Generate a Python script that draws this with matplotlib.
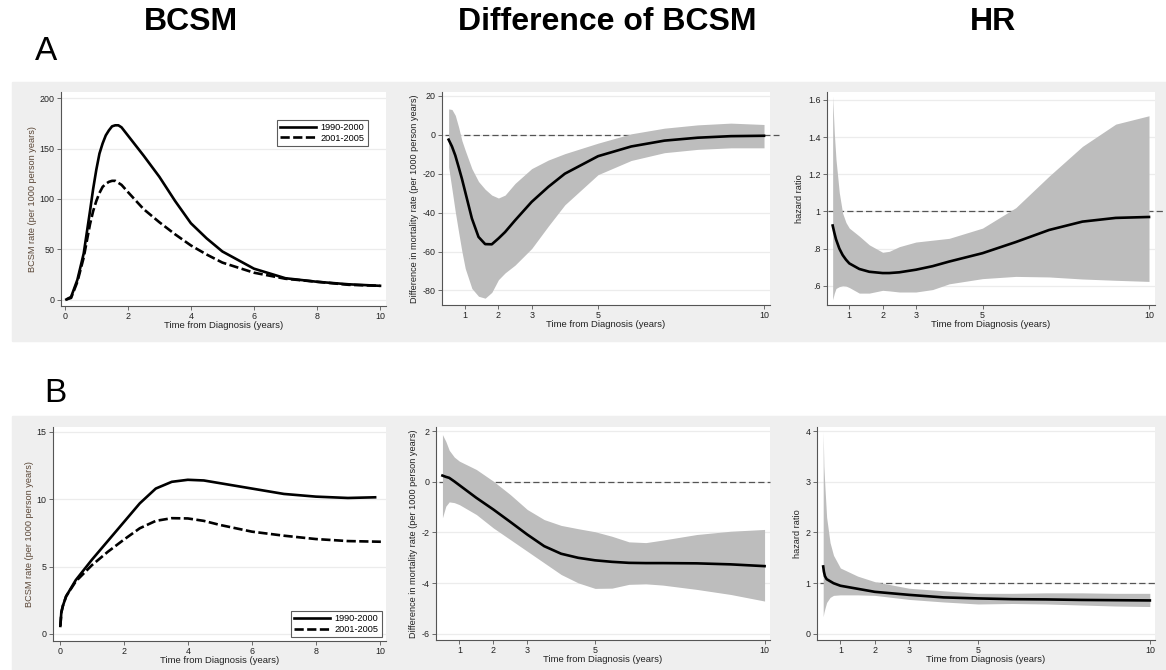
import matplotlib
matplotlib.use("Agg")
import matplotlib.pyplot as plt
from matplotlib.patches import Rectangle

plt.rcParams["font.family"] = ["Liberation Sans", "DejaVu Sans"]
plt.rcParams["axes.unicode_minus"] = False

W, H = 1166, 670

COL_TITLES = ["BCSM", "Difference of BCSM", "HR"]
ROW_LABELS = ["A", "B"]
PERIODS = ["1990-2000", "2001-2005"]
XLABEL = "Time from Diagnosis (years)"
YLAB_RATE = "BCSM rate (per 1000 person years)"
YLAB_DIFF = "Difference in mortality rate (per 1000 person years)"
YLAB_HR = "hazard ratio"
LOG_TICKS = [1, 2, 3, 5, 10]

# --- Row A: BCSM rates ---
A_T = [0.05, 0.2, 0.4, 0.6, 0.8, 0.9, 1.0, 1.1, 1.2, 1.3, 1.4, 1.5, 1.6, 1.7,
       1.8, 2.0, 2.5, 3.0, 3.5, 4.0, 4.5, 5.0, 6.0, 7.0, 8.0, 9.0, 10.0]
A_RATE_9000 = [0.5, 3, 20, 46, 88, 110, 129, 145, 155, 163, 168, 172, 173, 173,
               171, 163, 143, 122, 98, 76, 61, 48, 31, 21.5, 18, 15.5, 14]
A_RATE_0105 = [0.5, 2, 18, 42, 75, 88, 98, 106, 112, 115, 117, 118, 118, 116,
               114, 107, 90, 77, 65, 54, 45, 37, 27, 21, 18, 15, 14]
A_RATE_TICKS = [0, 50, 100, 150, 200]

# --- Row A: difference ---
A_DT = [0.5, 0.6, 0.7, 0.8, 0.9, 1.0, 1.2, 1.4, 1.6, 1.8, 2.0, 2.2, 2.5, 3.0,
        3.5, 4.0, 5.0, 6.0, 7.0, 8.0, 9.0, 10.0]
A_DIFF = [-2.5, -6, -10.6, -16.5, -22.6, -29.4, -43, -52.5, -56.2, -56.3, -53.3,
          -50, -44, -34.5, -26.8, -20, -11, -6, -3, -1.5, -0.7, -0.5]
A_DIFF_HI = [13.3, 13, 10, 4, -3, -8, -17.4, -24, -28, -31, -32.5, -31, -25,
             -17.4, -13, -9.7, -4.3, 0.5, 3.4, 5.1, 6, 5.3]
A_DIFF_LO = [-16.6, -28, -39.6, -50, -60, -68.7, -79, -83, -84, -81, -74.5, -71,
             -67, -58.5, -47, -36, -20.5, -13.2, -9.2, -7.5, -6.7, -6.7]
A_DIFF_TICKS = [-80, -60, -40, -20, 0, 20]

# --- Row A: hazard ratio ---
A_HT = [0.5, 0.55, 0.6, 0.7, 0.8, 0.9, 1.0, 1.3, 1.6, 2.0, 2.2, 2.5, 3.0, 3.5,
        4.0, 5.0, 6.0, 7.0, 8.0, 9.0, 10.0]
A_HR = [0.924, 0.885, 0.85, 0.8, 0.765, 0.74, 0.72, 0.69, 0.675, 0.668, 0.668,
        0.672, 0.686, 0.705, 0.73, 0.775, 0.835, 0.9, 0.945, 0.965, 0.97]
A_HR_HI = [1.62, 1.42, 1.28, 1.1, 0.99, 0.94, 0.91, 0.867, 0.82, 0.78, 0.785,
           0.81, 0.835, 0.845, 0.855, 0.91, 1.02, 1.19, 1.35, 1.47, 1.515]
A_HR_LO = [0.524, 0.56, 0.585, 0.595, 0.6, 0.598, 0.59, 0.56, 0.56, 0.575,
           0.572, 0.566, 0.566, 0.579, 0.61, 0.638, 0.65, 0.647, 0.636, 0.629,
           0.623]
A_HR_TICKS = [0.6, 0.8, 1.0, 1.2, 1.4, 1.6]
A_HR_LABELS = [".6", ".8", "1", "1.2", "1.4", "1.6"]

# --- Row B: BCSM rates ---
B_T_9000 = [0.02, 0.05, 0.1, 0.2, 0.5, 1.0, 1.5, 2.0, 2.5, 3.0, 3.5, 4.0, 4.5,
            5.0, 6.0, 7.0, 8.0, 9.0, 9.85]
B_RATE_9000 = [0.6, 1.6, 2.1, 2.8, 4.0, 5.5, 6.9, 8.3, 9.7, 10.8, 11.3, 11.45,
               11.4, 11.2, 10.8, 10.4, 10.2, 10.1, 10.15]
B_T_0105 = [0.02, 0.05, 0.1, 0.2, 0.5, 1.0, 1.5, 2.0, 2.5, 3.0, 3.5, 4.0, 4.5,
            5.0, 6.0, 7.0, 8.0, 9.0, 10.03]
B_RATE_0105 = [0.6, 1.6, 2.1, 2.8, 3.9, 5.1, 6.1, 7.0, 7.85, 8.4, 8.6, 8.58,
               8.4, 8.1, 7.6, 7.3, 7.05, 6.9, 6.85]
B_RATE_TICKS = [0, 5, 10, 15]

# --- Row B: difference ---
B_DT = [0.5, 0.6, 0.7, 0.85, 1.0, 1.5, 2.0, 2.5, 3.0, 3.5, 4.0, 4.5, 5.0, 5.5,
        6.0, 6.5, 7.0, 8.0, 9.0, 10.0]
B_DIFF = [0.25, 0.2, 0.16, 0.02, -0.13, -0.63, -1.09, -1.58, -2.08, -2.54,
          -2.84, -3.0, -3.1, -3.16, -3.2, -3.21, -3.21, -3.22, -3.26, -3.33]
B_DIFF_HI = [1.87, 1.6, 1.25, 0.98, 0.82, 0.49, 0.03, -0.5, -1.09, -1.49,
             -1.72, -1.85, -1.97, -2.15, -2.37, -2.4, -2.3, -2.08, -1.95, -1.88]
B_DIFF_LO = [-1.42, -0.96, -0.79, -0.82, -0.9, -1.29, -1.82, -2.28, -2.74,
             -3.2, -3.66, -3.99, -4.21, -4.2, -4.05, -4.03, -4.08, -4.25,
             -4.45, -4.71]
B_DIFF_TICKS = [-6, -4, -2, 0, 2]

# --- Row B: hazard ratio ---
B_HT = [0.5, 0.52, 0.55, 0.6, 0.7, 0.8, 1.0, 1.5, 2.0, 3.0, 4.0, 5.0, 6.0, 7.0,
        8.0, 9.0, 10.0]
B_HR = [1.33, 1.23, 1.14, 1.08, 1.04, 1.0, 0.95, 0.89, 0.83, 0.77, 0.72, 0.70,
        0.685, 0.68, 0.67, 0.665, 0.66]
B_HR_HI = [3.99, 3.3, 2.9, 2.3, 1.8, 1.55, 1.3, 1.14, 1.03, 0.9, 0.85, 0.8,
           0.8, 0.81, 0.81, 0.8, 0.8]
B_HR_LO = [0.34, 0.42, 0.5, 0.62, 0.72, 0.76, 0.77, 0.77, 0.76, 0.68, 0.63,
           0.59, 0.6, 0.59, 0.57, 0.55, 0.54]
B_HR_TICKS = [0, 1, 2, 3, 4]

BAND = "#bdbdbd"
BG = "#efefef"
AXC = "#555555"


def px_rect(left, top, right, bottom):
    return [left / W, 1 - bottom / H, (right - left) / W, (bottom - top) / H]


def style_axes(ax, xlim, ylim, yticks, ylabels=None):
    ax.set_facecolor("white")
    ax.set_xlim(*xlim)
    ax.set_ylim(*ylim)
    for s in ["top", "right"]:
        ax.spines[s].set_visible(False)
    for s in ["left", "bottom"]:
        ax.spines[s].set_color(AXC)
        ax.spines[s].set_linewidth(0.8)
    ax.set_yticks(yticks)
    if ylabels is not None:
        ax.set_yticklabels(ylabels)
    ax.tick_params(axis="both", labelsize=6.4, length=3, width=0.6,
                   color=AXC, pad=1.5, labelcolor="#222222")
    ax.grid(axis="y", color="#ececec", linewidth=0.9)
    ax.set_axisbelow(True)
    ax.set_xlabel(XLABEL, fontsize=6.8, labelpad=-0.5, color="#222222")


def rate_panel(ax, t1, y1, t2, y2, yticks, ylabel, xlim, ylim, leg_anchor, leg_loc):
    style_axes(ax, xlim, ylim, yticks)
    ax.set_xticks([0, 2, 4, 6, 8, 10])
    ax.plot(t1, y1, color="black", lw=1.9, label=PERIODS[0])
    ax.plot(t2, y2, color="black", lw=1.9, dashes=(3.5, 1.3), label=PERIODS[1])
    ax.set_ylabel(ylabel, fontsize=6.6, labelpad=2, color="#5a4636")
    leg = ax.legend(loc=leg_loc, bbox_to_anchor=leg_anchor,
                    bbox_transform=ax.figure.transFigure, fontsize=6.6,
                    handlelength=3.9, fancybox=False, borderaxespad=0,
                    borderpad=0.35, labelspacing=0.15, handletextpad=0.5)
    leg.get_frame().set_edgecolor("#333333")
    leg.get_frame().set_linewidth(0.8)


def band_panel(ax, t, est, lo, hi, ref, ref_span, yticks, ylabel, xlim, ylim,
               ylabels=None):
    style_axes(ax, xlim, ylim, yticks, ylabels)
    ax.set_xticks(LOG_TICKS)
    ax.plot(ref_span, [ref, ref], color="#555555", lw=0.9, dashes=(5, 2.5),
            clip_on=False, zorder=1)
    ax.fill_between(t, lo, hi, color=BAND, lw=0, zorder=2)
    ax.plot(t, est, color="black", lw=1.9, zorder=3)
    ax.set_ylabel(ylabel, fontsize=6.6, labelpad=3, color="#222222")


fig = plt.figure(figsize=(W / 100, H / 100), dpi=100)

# grey panel backgrounds, behind the axes
fig.patches.append(Rectangle((12 / W, 1 - 341 / H), (W - 12) / W, 259 / H,
                             transform=fig.transFigure, color=BG, zorder=-5))
fig.patches.append(Rectangle((12 / W, 0), (W - 12) / W, 1 - 416 / H,
                             transform=fig.transFigure, color=BG, zorder=-5))

# column titles and row letters
for x, title in zip([191, 607, 993], COL_TITLES):
    fig.text(x / W, 1 - 22 / H, title, fontsize=23, fontweight="bold",
             ha="center", va="center")
fig.text(35 / W, 1 - 51 / H, ROW_LABELS[0], fontsize=24, ha="left", va="center")
fig.text(44 / W, 1 - 394 / H, ROW_LABELS[1], fontsize=24, ha="left", va="center")

# Row A
ax = fig.add_axes(px_rect(61, 92, 386, 306))
rate_panel(ax, A_T, A_RATE_9000, A_T, A_RATE_0105, A_RATE_TICKS, YLAB_RATE,
           (-0.12, 10.19), (-6, 206), (368 / W, 1 - 120 / H), "upper right")

ax = fig.add_axes(px_rect(442, 92, 770, 305))
band_panel(ax, A_DT, A_DIFF, A_DIFF_LO, A_DIFF_HI, 0, [0.4, 10.45],
           A_DIFF_TICKS, YLAB_DIFF, (0.30, 10.18), (-87.5, 22))

ax = fig.add_axes(px_rect(827, 92, 1155, 305))
band_panel(ax, A_HT, A_HR, A_HR_LO, A_HR_HI, 1, [0.37, 10.5],
           A_HR_TICKS, YLAB_HR, (0.33, 10.18), (0.496, 1.643), A_HR_LABELS)

# Row B
ax = fig.add_axes(px_rect(53, 427, 386, 641))
rate_panel(ax, B_T_9000, B_RATE_9000, B_T_0105, B_RATE_0105, B_RATE_TICKS,
           YLAB_RATE, (-0.21, 10.19), (-0.52, 15.37), (382 / W, 1 - 637 / H),
           "lower right")

ax = fig.add_axes(px_rect(436, 427, 770, 640))
band_panel(ax, B_DT, B_DIFF, B_DIFF_LO, B_DIFF_HI, 0, [0.4, 10.16],
           B_DIFF_TICKS, YLAB_DIFF, (0.31, 10.16), (-6.25, 2.17))

ax = fig.add_axes(px_rect(817, 427, 1155, 640))
band_panel(ax, B_HT, B_HR, B_HR_LO, B_HR_HI, 1, [0.4, 10.15],
           B_HR_TICKS, YLAB_HR, (0.32, 10.15), (-0.12, 4.08))

fig.savefig("out.png", dpi=100)
plt.close(fig)
